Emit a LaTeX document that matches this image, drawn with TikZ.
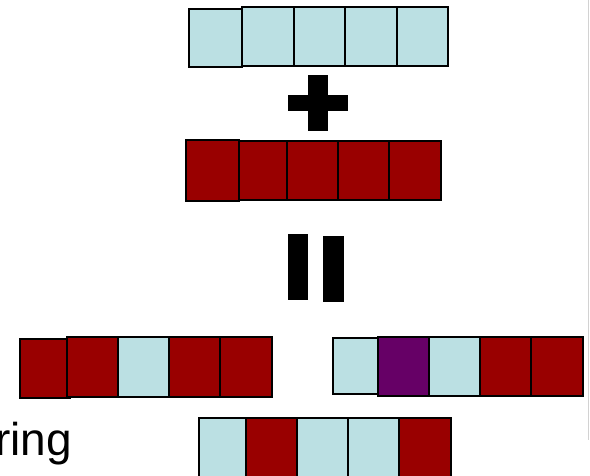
\documentclass[tikz,border=0pt]{standalone}
\usepackage{fontspec}
\setmainfont{Liberation Sans}
\definecolor{lblue}{HTML}{BBE0E3}
\definecolor{dred}{HTML}{990000}
\definecolor{dpurp}{HTML}{660066}
\begin{document}
\begin{tikzpicture}[x=1pt,y=-1pt,
  cell/.style={draw=black,line width=2pt},
  bar/.style={fill=black}]
\useasboundingbox (0,0) rectangle (590,475);
\clip (0,0) rectangle (590,475);
\fill[white] (0,0) rectangle (590,475);
% right faint edge line
\draw[gray!35,line width=1.5pt] (588.5,0) -- (588.5,440);
% top row (light blue)
\draw[cell,fill=lblue] (189,9) rectangle (242,67);
\foreach \a/\b in {242/293.5,293.5/345,345/396.5,396.5/448}
  \draw[cell,fill=lblue] (\a,7) rectangle (\b,66);
% plus sign
\fill[bar] (308,75) rectangle (328,131);
\fill[bar] (288,95) rectangle (348,111);
% red row
\draw[cell,fill=dred] (186,140) rectangle (239,201);
\foreach \a/\b in {239/287,287/338,338/389,389/441}
  \draw[cell,fill=dred] (\a,141) rectangle (\b,200);
% equals sign
\fill[bar] (288,234) rectangle (308,300);
\fill[bar] (323,236) rectangle (344,302);
% bottom-left child
\draw[cell,fill=dred] (20,339) rectangle (70,398);
\foreach \a/\b/\c in {67/118/dred,118/169/lblue,169/220/dred,220/272/dred}
  \draw[cell,fill=\c] (\a,337) rectangle (\b,397);
% bottom-right child
\draw[cell,fill=lblue] (333,338) rectangle (378,394);
\foreach \a/\b/\c in {378/429/dpurp,429/480/lblue,480/531/dred,531/583/dred}
  \draw[cell,fill=\c] (\a,337) rectangle (\b,396);
% bottom row (cut off)
\foreach \a/\b/\c in {199/246/lblue,246/297/dred,297/348/lblue,348/399/lblue,399/451/dred}
  \draw[cell,fill=\c] (\a,418) rectangle (\b,480);
% partial text
\node[anchor=base east,inner sep=0pt,font=\fontsize{46}{50}\selectfont] (txt) at (72,455) {ring};
\end{tikzpicture}
\end{document}
